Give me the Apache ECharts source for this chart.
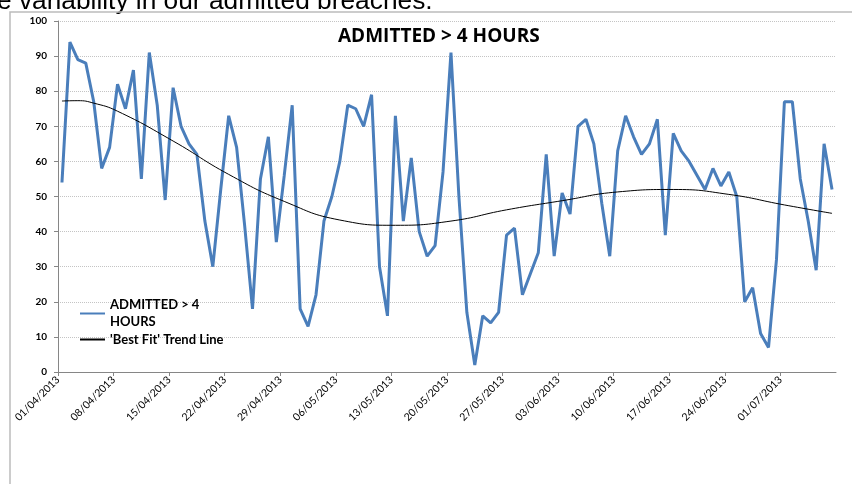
<!DOCTYPE html>
<html>
<head>
<meta charset="utf-8">
<script src="https://cdn.jsdelivr.net/npm/echarts@6/dist/echarts.min.js"></script>
<style>
  html, body { margin: 0; padding: 0; background: #fff; }
  #chart { width: 852px; height: 484px; }
</style>
</head>
<body>
<div id="chart"></div>
<script>
// week tick labels on the date axis (one every 7 days)
const tickLabels = ['01/04/2013', '08/04/2013', '15/04/2013', '22/04/2013', '29/04/2013', '06/05/2013',
    '13/05/2013', '20/05/2013', '27/05/2013', '03/06/2013', '10/06/2013', '17/06/2013', '24/06/2013', '01/07/2013'];

// daily admitted > 4 hours, 01/04/2013 .. 07/07/2013
const admitted = [54, 94, 89, 88, 77, 58, 64, 82, 75, 86,
    55, 91, 76, 49, 81, 70, 65, 62, 43, 30,
    52, 73, 64, 42, 18, 55, 67, 37, 56, 76,
    18, 13, 22, 43, 50, 60, 76, 75, 70, 79,
    30, 16, 73, 43, 61, 40, 33, 36, 57, 91,
    50, 17, 2, 16, 14, 17, 39, 41, 22, 28,
    34, 62, 33, 51, 45, 70, 72, 65, 48, 33,
    63, 73, 67, 62, 65, 72, 39, 68, 63, 60,
    56, 52, 58, 53, 57, 50, 20, 24, 11, 7,
    32, 77, 77, 55, 43, 29, 65, 52];

// 'best fit' trend line read at a few days
const trendDays = [0, 2, 4, 7, 14, 21, 28, 35, 42, 49, 56, 63, 70, 77, 84, 91, 97];
const trendValues = [77.2, 77.3, 76.6, 74.3, 65.8, 56.3, 48.6, 43.3, 41.8, 43, 46.2, 48.8, 51.3, 52, 50.6, 47.6, 45.2];

const chart = echarts.init(document.getElementById('chart'));

// points sit in the middle of each day slot
const admittedData = admitted.map((v, i) => [i + 0.5, v]);
const trendData = trendDays.map((d, i) => [d + 0.5, trendValues[i]]);

const option = {
    backgroundColor: '#fff',
    animation: false,
    title: {
        text: 'ADMITTED > 4 HOURS',
        left: 333,
        top: 22,
        textStyle: {
            fontFamily: 'Open Sans',
            fontSize: 19,
            fontWeight: 'bold',
            color: '#000'
        }
    },
    grid: {
        left: 58,
        right: 16,
        top: 21,
        bottom: 112
    },
    legend: {
        orient: 'vertical',
        left: 79,
        top: 288,
        padding: 0,
        itemWidth: 25,
        itemHeight: 10,
        itemGap: -8,
        itemStyle: { opacity: 0 },
        textStyle: {
            fontFamily: 'Lato',
            fontSize: 13,
            fontWeight: 'bold',
            color: '#000',
            lineHeight: 17
        },
        formatter: (name) => name === 'ADMITTED > 4 HOURS' ? 'ADMITTED > 4\nHOURS' : name,
        data: [
            { name: 'ADMITTED > 4 HOURS', textStyle: { lineHeight: 17, padding: [17, 0, 0, 0] } },
            { name: '\'Best Fit\' Trend Line' }
        ]
    },
    xAxis: {
        type: 'value',
        min: 0,
        max: 98,
        interval: 7,
        splitLine: { show: false },
        axisLine: { lineStyle: { color: '#868686', width: 1 } },
        axisTick: { show: true, length: 4, lineStyle: { color: '#868686' } },
        axisLabel: {
            rotate: 45,
            margin: 6,
            fontFamily: 'Lato',
            fontSize: 10.5,
            color: '#000',
            showMaxLabel: false,
            formatter: (value) => tickLabels[Math.round(value / 7)] || ''
        }
    },
    yAxis: {
        type: 'value',
        min: 0,
        max: 100,
        interval: 10,
        axisLine: { show: true, lineStyle: { color: '#868686', width: 1 } },
        axisTick: { show: true, length: 4, lineStyle: { color: '#868686' } },
        axisLabel: {
            margin: 11,
            fontFamily: 'Lato',
            fontSize: 10,
            fontWeight: 'bold',
            color: '#000'
        },
        splitLine: {
            show: true,
            lineStyle: { color: '#c4c4c4', type: 'dotted', width: 1 }
        }
    },
    series: [
        {
            name: 'ADMITTED > 4 HOURS',
            type: 'line',
            data: admittedData,
            symbol: 'none',
            color: '#4a7ebb',
            lineStyle: { color: '#4a7ebb', width: 3 }
        },
        {
            name: '\'Best Fit\' Trend Line',
            type: 'line',
            data: trendData,
            symbol: 'none',
            smooth: 0.5,
            color: '#000',
            lineStyle: { color: '#000', width: 1 }
        }
    ],
    graphic: [
        // slide caption cut off at the top
        {
            type: 'text',
            left: -3,
            top: -11,
            style: {
                text: 'e variability in our admitted breaches.',
                fontFamily: 'Liberation Sans',
                fontSize: 26.3,
                fill: '#000'
            }
        },
        // frame of the embedded chart
        {
            type: 'rect',
            shape: { x: 10, y: 12, width: 900, height: 500 },
            style: { fill: 'none', stroke: '#bcbcbc', lineWidth: 1.5 },
            silent: true
        }
    ]
};

chart.setOption(option);
</script>
</body>
</html>
